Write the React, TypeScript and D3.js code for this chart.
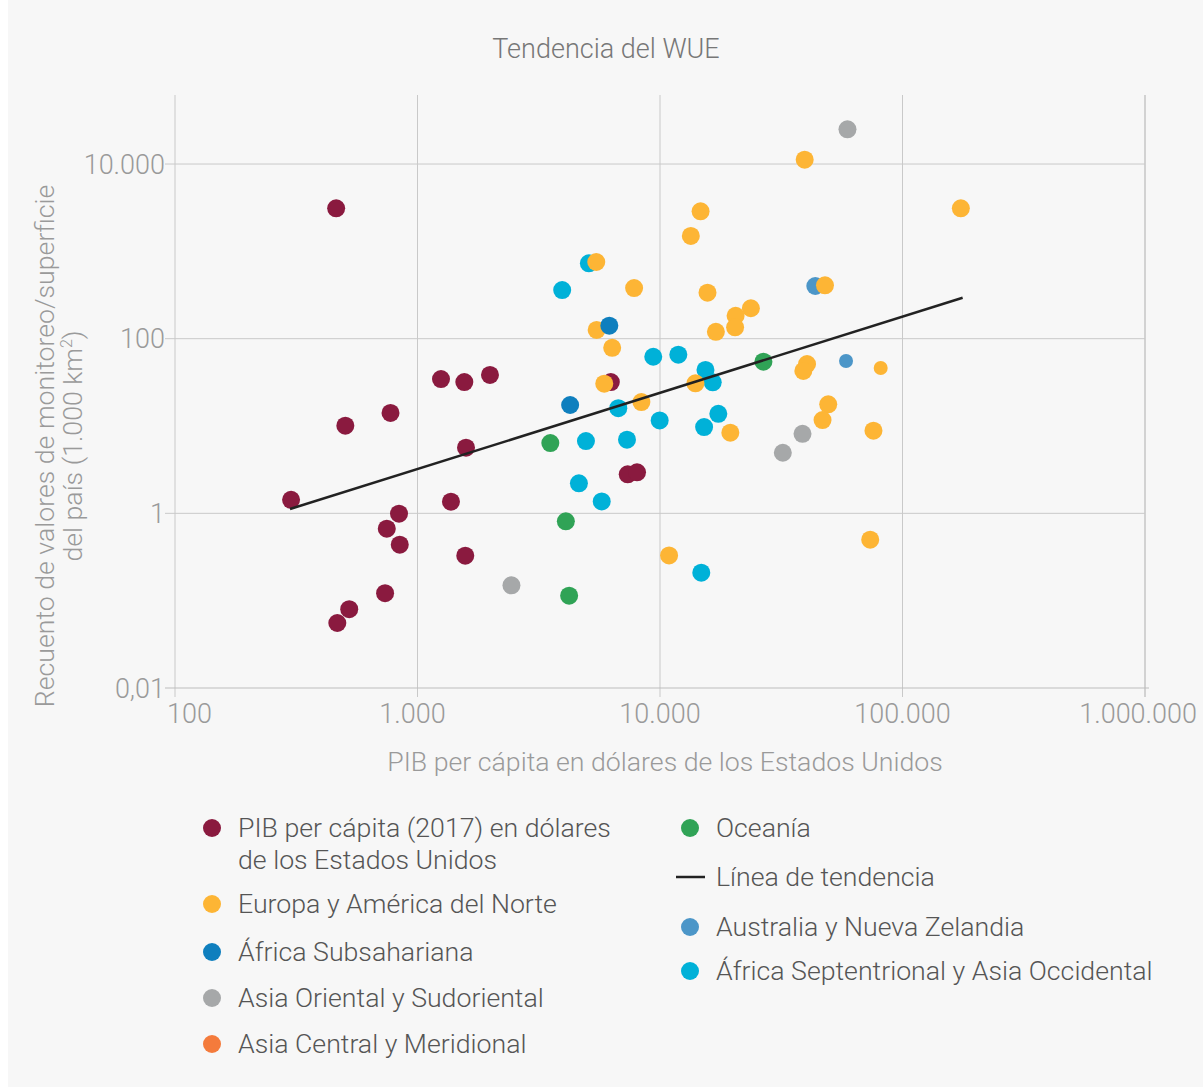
import React from "react";
import * as d3 from "d3";

const title = "Tendencia del WUE";
const xLabel = "PIB per cápita en dólares de los Estados Unidos";
const yLabelLine1 = "Recuento de valores de monitoreo/superficie";
const yLabelLine2 = "del país (1.000 km";
const yLabelSup = "2";

const xTicks = [100, 1000, 10000, 100000, 1000000];
const xTickLabels = ["100", "1.000", "10.000", "100.000", "1.000.000"];
const yTicks = [0.01, 1, 100, 10000];
const yTickLabels = ["0,01", "1", "100", "10.000"];
const xDomain = [100, 1000000];
const yDomain = [0.01, 61700];

// [PIB per cápita (USD), recuento / superficie]
const pibPoints: [number, number][] = [
  [462, 3110], [1250, 34.5], [1560, 31.9], [1990, 38.4], [774, 14.1], [504, 10.1],
  [1585, 5.64], [301, 1.43], [1374, 1.36], [839, 0.99], [747, 0.667], [845, 0.437],
  [1574, 0.327], [735, 0.122], [523, 0.08], [467, 0.0555], [6270, 31.9], [7360, 2.8],
  [8040, 2.95],
];
const africaNorteAsiaOccPoints: [number, number][] = [
  [5090, 729], [3950, 360], [9380, 62.1], [11900, 65.5], [15400, 43.8], [16500, 31.6],
  [6730, 16.0], [17400, 13.8], [9970, 11.6], [15200, 9.73], [4950, 6.73], [7310, 6.97],
  [4630, 2.21], [5750, 1.37], [14800, 0.209],
];
const australiaNZPoints: [number, number][] = [
  [43700, 401], [58500, 55.5],
];
const europaAmericaPoints: [number, number][] = [
  [39500, 11200], [174000, 3110], [14700, 2870], [13400, 1500], [5460, 755], [7820, 380],
  [15700, 336], [47900, 408], [23700, 223], [20500, 183], [20400, 135], [17000, 120],
  [5480, 126], [6350, 78.7], [40400, 51.3], [39000, 42.7], [81300, 46.1], [5890, 30.5],
  [14000, 30.8], [8380, 18.8], [49400, 17.7], [46800, 11.7], [19500, 8.38], [75900, 8.83],
  [10900, 0.33], [73600, 0.499],
];
const africaSubPoints: [number, number][] = [
  [6180, 141], [4260, 17.4],
];
const asiaOrientalPoints: [number, number][] = [
  [59300, 25000], [38700, 8.15], [32100, 4.94], [2440, 0.15],
];
const oceaniaPoints: [number, number][] = [
  [26700, 54.5], [3530, 6.38], [4090, 0.811], [4220, 0.114],
];
const asiaCentralPoints: [number, number][] = [];

const trendX = [298, 177000];
const trendY = [1.12, 294];

// marker styling (not data)
const COLORS = {
  pib: "#8a1a3f",
  europa: "#fdb535",
  africaSub: "#0f7fbe",
  asiaOriental: "#a6a8a9",
  asiaCentral: "#f47b3c",
  oceania: "#30a356",
  australia: "#4c96c8",
  africaNorte: "#00b1d8",
};
const smallMarkers: Record<string, number[]> = { australia: [1], europa: [16] };

export default function App() {
  const W = 1203;
  const H = 1087;
  const left = 175, right = 1145, top = 95, bottom = 688;
  const x = d3.scaleLog().domain(xDomain).range([left, right]);
  const y = d3.scaleLog().domain(yDomain).range([bottom, top]);

  const series = [
    { key: "pib", pts: pibPoints },
    { key: "africaNorte", pts: africaNorteAsiaOccPoints },
    { key: "australia", pts: australiaNZPoints },
    { key: "europa", pts: europaAmericaPoints },
    { key: "africaSub", pts: africaSubPoints },
    { key: "asiaOriental", pts: asiaOrientalPoints },
    { key: "oceania", pts: oceaniaPoints },
    { key: "asiaCentral", pts: asiaCentralPoints },
  ];

  const line = d3.line<number>()
    .x((_, i) => x(trendX[i]))
    .y((_, i) => y(trendY[i]));

  const font = "Roboto, 'Open Sans', sans-serif";
  const tickColor = "#9a9a9a";
  const gridColor = "#c9c9c9";
  const fs = 26.7;

  const legendLeft = [
    { key: "pib", lines: ["PIB per cápita (2017) en dólares", "de los Estados Unidos"], cy: 828 },
    { key: "europa", lines: ["Europa y América del Norte"], cy: 904 },
    { key: "africaSub", lines: ["África Subsahariana"], cy: 952 },
    { key: "asiaOriental", lines: ["Asia Oriental y Sudoriental"], cy: 998 },
    { key: "asiaCentral", lines: ["Asia Central y Meridional"], cy: 1044 },
  ];
  const legendRight = [
    { key: "oceania", lines: ["Oceanía"], cy: 828 },
    { key: "trend", lines: ["Línea de tendencia"], cy: 877 },
    { key: "australia", lines: ["Australia y Nueva Zelandia"], cy: 927 },
    { key: "africaNorte", lines: ["África Septentrional y Asia Occidental"], cy: 971 },
  ];

  const renderLegend = (items: typeof legendLeft, mx: number, tx: number) =>
    items.map((it) => (
      <g key={it.key}>
        {it.key === "trend" ? (
          <line x1={mx - 14} x2={mx + 15} y1={it.cy} y2={it.cy} stroke="#222" strokeWidth={2.5} />
        ) : (
          <circle cx={mx} cy={it.cy} r={9} fill={(COLORS as any)[it.key]} />
        )}
        {it.lines.map((l, i) => (
          <text key={i} x={tx} y={it.cy + 9 + i * 32} fontSize={fs} fill="#555" fontFamily={font} fontWeight={300}>
            {l}
          </text>
        ))}
      </g>
    ));

  const last = xTicks.length - 1;

  return (
    <svg width={W} height={H} style={{ position: "absolute", left: 0, top: 0 }}>
      <rect x={8} y={0} width={W - 8} height={H} fill="#f7f7f7" />
      <text x={606} y={58} textAnchor="middle" fontSize={27} fill="#777" fontFamily={font} fontWeight={300}>
        {title}
      </text>

      {/* vertical grid */}
      {xTicks.map((t, i) => (
        <line key={"vx" + i} x1={x(t)} x2={x(t)} y1={top} y2={bottom + 9}
          stroke={i === last ? "#d2d2d2" : gridColor} strokeWidth={i === last ? 2 : 1} />
      ))}
      {/* horizontal grid */}
      {yTicks.map((t, i) => (
        <line key={"hy" + i} x1={left - 10} x2={right + (i === 0 ? 4 : 0)} y1={y(t)} y2={y(t)}
          stroke={i === 0 ? "#bdbdbd" : gridColor} strokeWidth={1} />
      ))}

      {xTicks.map((t, i) => (
        <text key={"xt" + i}
          x={i === 0 ? x(t) - 8 : i === last ? x(t) + 52 : x(t) - (i === 1 ? 5 : 0)}
          y={723} textAnchor={i === 0 ? "start" : i === last ? "end" : "middle"}
          fontSize={27} fill={tickColor} fontFamily={font} fontWeight={300}>
          {xTickLabels[i]}
        </text>
      ))}
      {yTicks.map((t, i) => (
        <text key={"yt" + i} x={165} y={y(t) + 9.5} textAnchor="end"
          fontSize={27} fill={tickColor} fontFamily={font} fontWeight={300}>
          {yTickLabels[i]}
        </text>
      ))}

      <text x={665} y={771} textAnchor="middle" fontSize={fs} fill={tickColor} fontFamily={font} fontWeight={300}>
        {xLabel}
      </text>
      <text transform={`translate(54,446) rotate(-90)`} textAnchor="middle"
        fontSize={fs} fill={tickColor} fontFamily={font} fontWeight={300}>
        {yLabelLine1}
      </text>
      <text transform={`translate(82,446) rotate(-90)`} textAnchor="middle"
        fontSize={fs} fill={tickColor} fontFamily={font} fontWeight={300}>
        {yLabelLine2}
        <tspan fontSize={16} dy={-10}>{yLabelSup}</tspan>
        <tspan dy={10}>)</tspan>
      </text>

      {series.map((s) => (
        <g key={s.key}>
          {s.pts.map((p, i) => (
            <circle key={i} cx={x(p[0])} cy={y(p[1])}
              r={(smallMarkers[s.key] || []).includes(i) ? 7 : 9}
              fill={(COLORS as any)[s.key]} />
          ))}
        </g>
      ))}

      <path d={line(trendX) || ""} fill="none" stroke="#222" strokeWidth={2.5} />

      {renderLegend(legendLeft, 212, 238)}
      {renderLegend(legendRight as any, 690, 716)}
    </svg>
  );
}
